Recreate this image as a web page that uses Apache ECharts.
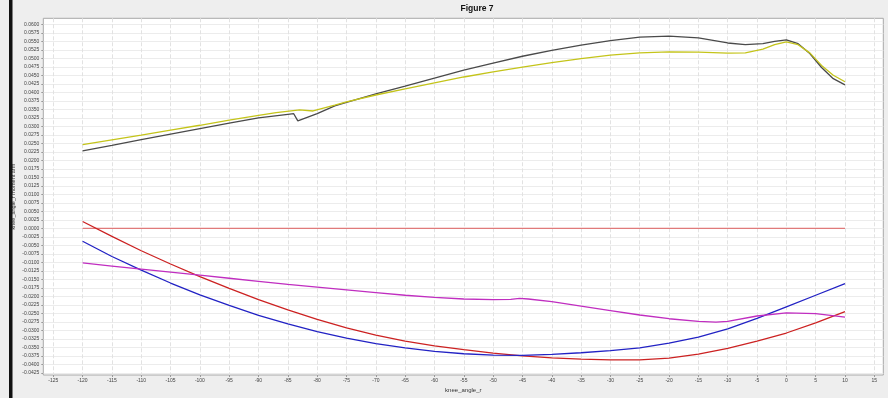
<!DOCTYPE html>
<html><head><meta charset="utf-8">
<script src="https://cdn.jsdelivr.net/npm/echarts@6/dist/echarts.min.js"></script>
<style>html,body{margin:0;padding:0;background:#eeeeee}#c{width:888px;height:398px}</style>
</head><body><div id="c"></div>
<script>
const xTicks = [-125,-120,-115,-110,-105,-100,-95,-90,-85,-80,-75,-70,-65,-60,-55,-50,-45,-40,-35,-30,-25,-20,-15,-10,-5,0,5,10,15];
const yTicks = [-0.0425,-0.04,-0.0375,-0.035,-0.0325,-0.03,-0.0275,-0.025,-0.0225,-0.02,-0.0175,-0.015,-0.0125,-0.01,-0.0075,-0.005,-0.0025,0,0.0025,0.005,0.0075,0.01,0.0125,0.015,0.0175,0.02,0.0225,0.025,0.0275,0.03,0.0325,0.035,0.0375,0.04,0.0425,0.045,0.0475,0.05,0.0525,0.055,0.0575,0.06];

const darkAngles = [-120,-115,-110,-105,-100,-95,-90,-85,-84,-83.3,-80,-77,-75,-70,-65,-60,-55,-50,-45,-40,-35,-30,-25,-20,-15,-10,-7,-4,-2,0,2,4,6,8,10];
const darkValues = [0.0228,0.0244,0.0261,0.0277,0.0293,0.0309,0.0325,0.0335,0.0337,0.0316,0.0337,0.0360,0.0370,0.0395,0.0418,0.0442,0.0465,0.0486,0.0506,0.0523,0.0539,0.0552,0.0562,0.0565,0.0560,0.0545,0.0540,0.0543,0.0550,0.0554,0.0543,0.0514,0.0473,0.0440,0.0422];

const yellowAngles = [-120,-115,-110,-105,-100,-95,-90,-87,-83,-80.7,-77,-75,-70,-65,-60,-55,-50,-45,-40,-35,-30,-25,-20,-15,-10,-7,-4,-2,0,2,4,6,8,10];
const yellowValues = [0.0246,0.0260,0.0274,0.0289,0.0303,0.0318,0.0332,0.0340,0.0348,0.0345,0.0362,0.0372,0.0392,0.0410,0.0428,0.0445,0.0460,0.0474,0.0487,0.0499,0.0509,0.0516,0.0519,0.0518,0.0515,0.0516,0.0527,0.0540,0.0548,0.0540,0.0516,0.0479,0.0450,0.0431];

const zeroAngles = [-120,10];
const zeroValues = [0,0];

const stepAngles = [-120,-115,-110,-105,-100,-95,-90,-85,-80,-75,-70,-65,-60,-55,-50,-45,-40,-35,-30,-25,-20,-15,-10,-5,0,5,10];
const redValues = [0.0020,-0.0024,-0.0066,-0.0105,-0.0142,-0.0177,-0.0210,-0.0240,-0.0268,-0.0293,-0.0314,-0.0332,-0.0346,-0.0357,-0.0367,-0.0375,-0.0381,-0.0385,-0.0387,-0.0387,-0.0382,-0.0370,-0.0353,-0.0332,-0.0308,-0.0278,-0.0245];
const blueValues = [-0.0038,-0.0083,-0.0123,-0.0161,-0.0196,-0.0227,-0.0256,-0.0281,-0.0304,-0.0323,-0.0339,-0.0352,-0.0362,-0.0369,-0.0373,-0.0374,-0.0371,-0.0366,-0.0360,-0.0352,-0.0338,-0.0320,-0.0296,-0.0265,-0.0231,-0.0197,-0.0163];

const magentaAngles = [-120,-115,-110,-105,-100,-95,-90,-85,-80,-75,-70,-65,-60,-55,-50,-47,-45.5,-44,-40,-35,-30,-25,-20,-15,-12,-10,-5,0,5,10];
const magentaValues = [-0.0102,-0.0111,-0.0120,-0.0129,-0.0138,-0.0147,-0.0156,-0.0165,-0.0173,-0.0181,-0.0189,-0.0197,-0.0203,-0.0208,-0.0210,-0.0209,-0.0206,-0.0208,-0.0216,-0.0229,-0.0242,-0.0255,-0.0266,-0.0274,-0.0276,-0.0274,-0.0258,-0.0249,-0.0251,-0.0261];

function pairs(xs, ys){ return xs.map((x,i)=>[x, ys[i]]); }
const FONT = 'Liberation Sans';
function line(name, xs, ys, color){
  return { name, type:'line', data:pairs(xs,ys), symbol:'none', smooth:false,
    lineStyle:{color, width:1.3}, itemStyle:{color}, z:3, animation:false };
}
const chart = echarts.init(document.getElementById('c'), null, {renderer:'canvas'});
chart.setOption({
  animation:false,
  backgroundColor:'#eeeeee',
  title:{ text:'Figure 7', left:472, top:-1, textAlign:'center',
    textStyle:{ fontFamily:FONT, fontSize:8.5, fontWeight:'bold', color:'#111' } },
  graphic:[
    { type:'rect', shape:{x:9, y:0, width:3.5, height:398}, style:{fill:'#111'}, z:10 }
  ],
  grid:{ left:43.3, top:18.3, right:4.7, bottom:22.5, show:true, backgroundColor:'#ffffff', borderColor:'#a8a8a8', borderWidth:1, containLabel:false },
  xAxis:{ type:'value', min:-126.7, max:16.53,
    name:'knee_angle_r', nameLocation:'middle', nameGap:12, nameMoveOverlap:false,
    nameTextStyle:{ fontFamily:FONT, fontSize:6, color:'#333' },
    axisLine:{show:false, onZero:false},
    axisTick:{show:true, length:2, lineStyle:{color:'#999'}, customValues:xTicks},
    axisLabel:{ fontFamily:FONT, fontSize:5, color:'#444', margin:3, customValues:xTicks, formatter:v=>String(v) },
    splitLine:{show:true, lineStyle:{color:'#e2e2e2', type:'dashed', width:1}}
  },
  yAxis:{ type:'value', min:-0.04315, max:0.06176,
    name:'knee_angle_r moment arm', nameLocation:'middle', nameGap:27, nameRotate:90, nameMoveOverlap:false,
    nameTextStyle:{ fontFamily:FONT, fontSize:5.5, color:'#333' },
    axisLine:{show:false, onZero:false},
    axisTick:{show:true, length:2, lineStyle:{color:'#999'}, customValues:yTicks},
    axisLabel:{ fontFamily:FONT, fontSize:5, color:'#444', margin:4, customValues:yTicks, formatter:v=>v.toFixed(4) },
    splitLine:{show:true, lineStyle:{color:'#ececec', width:1}}
  },
  series:[
    line('zero', zeroAngles, zeroValues, '#e07a7a'),
    line('dark', darkAngles, darkValues, '#4a4a4a'),
    line('yellow', yellowAngles, yellowValues, '#c4c41a'),
    line('red', stepAngles, redValues, '#cc2222'),
    line('blue', stepAngles, blueValues, '#2222c4'),
    line('magenta', magentaAngles, magentaValues, '#c02ec0')
  ]
});
</script></body></html>
